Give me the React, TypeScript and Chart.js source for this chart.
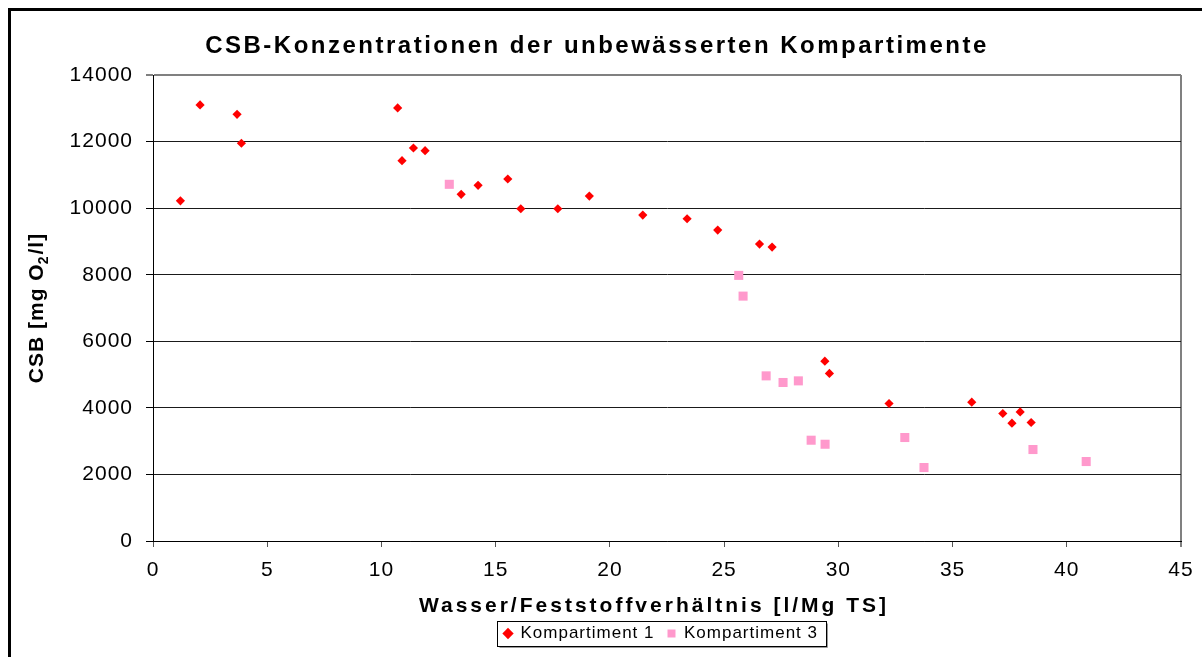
import React, { useEffect, useRef } from "react";
import { Chart, registerables } from "chart.js";

Chart.register(...registerables);

// ---- data ----
const k1X = [1.2, 2.06, 3.68, 3.87, 10.71, 10.9, 11.4, 11.91, 13.49, 14.23, 15.53, 16.1, 17.72, 19.1, 21.44, 23.38, 24.72, 26.55, 27.1, 29.41, 29.61, 32.22, 35.84, 37.2, 37.6, 37.96, 38.44];
const k1Y = [10220, 13100, 12820, 11950, 13010, 11425, 11807, 11726, 10415, 10685, 10875, 9982, 9982, 10364, 9793, 9682, 9342, 8921, 8830, 5403, 5033, 4131, 4170, 3830, 3539, 3879, 3560];
const k3X = [12.97, 25.64, 25.83, 26.84, 27.58, 28.25, 28.81, 29.42, 32.91, 33.75, 38.52, 40.85];
const k3Y = [10716, 7980, 7357, 4961, 4762, 4811, 3028, 2907, 3109, 2207, 2748, 2387];

const seriesNames = ["Kompartiment 1", "Kompartiment 3"];
const xMin = 0, xMax = 45, xStep = 5;
const yMin = 0, yMax = 14000, yStep = 2000;

const chartTitle = "CSB-Konzentrationen der unbewässerten Kompartimente";
const xTitle = "Wasser/Feststoffverhältnis [l/Mg TS]";
const yTitleMain = "CSB [mg O";
const yTitleSub = "2";
const yTitleEnd = "/l]";

const FONT = "'Liberation Sans', Arial, Helvetica, sans-serif";
const LEGEND_SHIFT = 12;

const decor = {
  id: "decor",
  beforeUpdate(chart: any) {
    chart.ctx.letterSpacing = "1px";
  },
  afterUpdate(chart: any) {
    const lg = chart.legend;
    if (lg && lg.legendHitBoxes) {
      lg.left -= LEGEND_SHIFT;
      for (const hb of lg.legendHitBoxes) hb.left -= LEGEND_SHIFT / 2;
    }
  },
  beforeDraw(chart: any) {
    const ctx = chart.ctx;
    ctx.letterSpacing = "1px";
    ctx.save();
    ctx.fillStyle = "#ffffff";
    ctx.fillRect(0, 0, chart.width, chart.height);
    ctx.restore();
  },
  afterDraw(chart: any) {
    const ctx = chart.ctx;
    ctx.save();
    // outer frame (top and left visible)
    ctx.fillStyle = "#000";
    ctx.fillRect(8, 8, chart.width - 8, 3);
    ctx.fillRect(8, 8, 3, chart.height - 8);

    // chart title
    ctx.fillStyle = "#000";
    ctx.font = `bold 24px ${FONT}`;
    ctx.letterSpacing = "2.5px";
    ctx.textAlign = "center";
    ctx.textBaseline = "alphabetic";
    ctx.fillText(chartTitle, 597, 53);

    // x axis title
    ctx.font = `bold 21px ${FONT}`;
    ctx.letterSpacing = "3px";
    ctx.fillText(xTitle, 654, 612);

    // y axis title with subscript
    ctx.save();
    ctx.translate(43, 308);
    ctx.rotate(-Math.PI / 2);
    ctx.letterSpacing = "1px";
    ctx.textAlign = "left";
    ctx.font = `bold 21px ${FONT}`;
    const w1 = ctx.measureText(yTitleMain).width;
    const w3 = ctx.measureText(yTitleEnd).width;
    ctx.font = `bold 14px ${FONT}`;
    const w2 = ctx.measureText(yTitleSub).width;
    let x = -(w1 + w2 + w3) / 2;
    ctx.font = `bold 21px ${FONT}`;
    ctx.fillText(yTitleMain, x, 0);
    x += w1;
    ctx.font = `bold 14px ${FONT}`;
    ctx.fillText(yTitleSub, x - 1, 5);
    x += w2;
    ctx.font = `bold 21px ${FONT}`;
    ctx.fillText(yTitleEnd, x, 0);
    ctx.restore();

    // legend frame
    const hb = chart.legend && chart.legend.legendHitBoxes;
    if (hb && hb.length) {
      const first = hb[0];
      const last = hb[hb.length - 1];
      const left = Math.round(first.left - 7) + 0.5;
      const right = Math.round(last.left + last.width + 8) + 0.5;
      const cy = first.top + first.height / 2;
      const top = Math.round(cy - 12.5) + 0.5;
      const bottom = Math.round(cy + 12.5) + 0.5;
      ctx.strokeStyle = "#9a9a9a";
      ctx.lineWidth = 1;
      ctx.beginPath();
      ctx.moveTo(left + 2, bottom + 1);
      ctx.lineTo(right + 1, bottom + 1);
      ctx.lineTo(right + 1, top + 2);
      ctx.stroke();
      ctx.strokeStyle = "#000";
      ctx.strokeRect(left, top, right - left, bottom - top);
    }
    ctx.restore();
  },
};

export default function App() {
  const ref = useRef<HTMLCanvasElement | null>(null);

  useEffect(() => {
    if (!ref.current) return;
    const k1 = k1X.map((x, i) => ({ x, y: k1Y[i] }));
    const k3 = k3X.map((x, i) => ({ x, y: k3Y[i] }));
    const chart = new Chart(ref.current, {
      type: "scatter",
      data: {
        datasets: [
          {
            label: seriesNames[0],
            data: k1,
            pointStyle: "rectRot",
            pointRadius: 4.6,
            pointHoverRadius: 4.6,
            backgroundColor: "#ff0000",
            borderColor: "#ff0000",
            borderWidth: 0,
          },
          {
            label: seriesNames[1],
            data: k3,
            pointStyle: "rect",
            pointRadius: 6.4,
            pointHoverRadius: 6.4,
            backgroundColor: "#ff99cc",
            borderColor: "#ff99cc",
            borderWidth: 0,
          },
        ],
      },
      plugins: [decor],
      options: {
        animation: false,
        responsive: false,
        devicePixelRatio: 1,
        layout: { padding: { left: 0, right: 21, top: 75, bottom: 5 } },
        plugins: {
          title: { display: false },
          tooltip: { enabled: false },
          legend: {
            display: true,
            position: "bottom",
            fullSize: false,
            labels: {
              usePointStyle: true,
              boxWidth: 8,
              boxHeight: 8,
              padding: 13,
              color: "#000",
              font: { family: FONT, size: 17 },
            },
          },
        },
        scales: {
          x: {
            type: "linear",
            min: xMin,
            max: xMax,
            afterFit: (s: any) => {
              s.height = 71;
              s.paddingLeft = 0;
              s.paddingRight = 0;
            },
            ticks: {
              stepSize: xStep,
              autoSkip: false,
              maxRotation: 0,
              padding: 11,
              color: "#000",
              font: { family: FONT, size: 21 },
              callback: (v: any) => String(v),
            },
            grid: {
              drawOnChartArea: true,
              tickLength: 6,
              color: (c: any) => (c.tick && c.tick.value === xMax ? "#808080" : "rgba(0,0,0,0)"),
              lineWidth: (c: any) => (c.tick && c.tick.value === xMax ? 2 : 1),
              tickColor: (c: any) => (c.tick && c.tick.value === xMax ? "#808080" : "#555"),
            },
            border: { display: true, color: "#000", width: 1 },
          },
          y: {
            type: "linear",
            min: yMin,
            max: yMax,
            afterFit: (s: any) => {
              s.width = 153;
              s.paddingTop = 0;
              s.paddingBottom = 0;
            },
            ticks: {
              stepSize: yStep,
              padding: 13,
              color: "#000",
              font: { family: FONT, size: 21 },
              callback: (v: any) => String(v),
            },
            grid: {
              tickLength: 7,
              color: (c: any) => (c.tick && c.tick.value === yMax ? "#808080" : "#1a1a1a"),
              lineWidth: (c: any) => (c.tick && c.tick.value === yMax ? 2 : 1),
              tickColor: "#000",
              tickWidth: 1,
            },
            border: { display: true, color: "#000", width: 1 },
          },
        },
      },
    });
    return () => chart.destroy();
  }, []);

  return (
    <div style={{ position: "fixed", left: 0, top: 0, width: 1202, height: 657, background: "#fff", overflow: "hidden" }}>
      <canvas ref={ref} width={1202} height={657} style={{ display: "block", width: 1202, height: 657 }} />
    </div>
  );
}
